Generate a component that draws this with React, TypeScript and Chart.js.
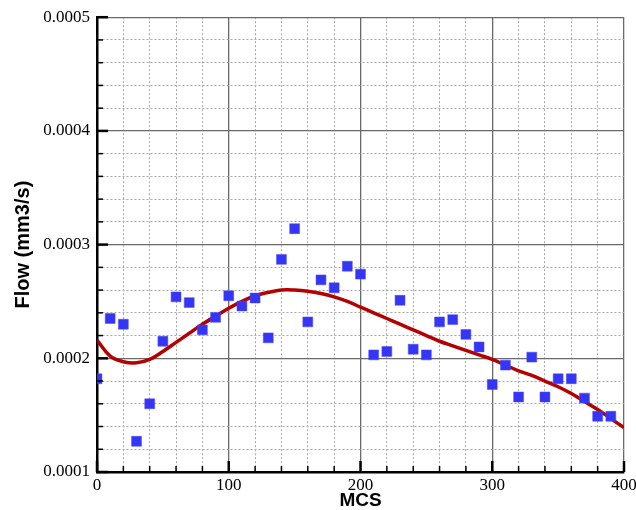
import React, { useEffect, useRef } from 'react';
import { Chart, registerables } from 'chart.js';

Chart.register(...registerables);

// Measured points (MCS, Flow mm3/s)
const mcsValues = [0, 10, 20, 30, 40, 50, 60, 70, 80, 90, 100, 110, 120, 130, 140, 150, 160, 170, 180, 190, 200, 210, 220, 230, 240, 250, 260, 270, 280, 290, 300, 310, 320, 330, 340, 350, 360, 370, 380, 390];
const flowValues = [0.000182, 0.000235, 0.00023, 0.000127, 0.00016, 0.000215, 0.000254, 0.000249, 0.000225, 0.000236, 0.000255, 0.000246, 0.000253, 0.000218, 0.000287, 0.000314, 0.000232, 0.000269, 0.000262, 0.000281, 0.000274, 0.000203, 0.000206, 0.000251, 0.000208, 0.000203, 0.000232, 0.000234, 0.000221, 0.00021, 0.000177, 0.000194, 0.000166, 0.000201, 0.000166, 0.000182, 0.000182, 0.000165, 0.000149, 0.000149];

// Fitted curve
const fitMcs = [0, 10, 20, 30, 40, 50, 60, 70, 80, 90, 100, 110, 120, 130, 140, 150, 160, 170, 180, 190, 200, 210, 220, 230, 240, 250, 260, 270, 280, 290, 300, 310, 320, 330, 340, 350, 360, 370, 380, 390, 400];
const fitFlow = [0.000216, 0.000202, 0.000197, 0.000196, 0.000199, 0.000206, 0.000214, 0.000222, 0.00023, 0.000237, 0.000244, 0.00025, 0.000255, 0.000258, 0.00026, 0.00026, 0.000259, 0.000257, 0.000254, 0.00025, 0.000245, 0.00024, 0.000235, 0.00023, 0.000225, 0.00022, 0.000215, 0.000211, 0.000207, 0.000203, 0.000199, 0.000194, 0.000189, 0.000185, 0.00018, 0.000175, 0.000169, 0.000162, 0.000155, 0.000147, 0.000139];

const xMin = 0;
const xMax = 400;
const xMajorStep = 100;
const xMinorStep = 20;
const yMin = 0.0001;
const yMax = 0.0005;
const yMajorStep = 0.0001;
const yMinorStep = 0.00002;

const isMajorX = (v: number) => Math.abs(v / xMajorStep - Math.round(v / xMajorStep)) < 1e-6;
const isMajorY = (v: number) => Math.abs(v / yMajorStep - Math.round(v / yMajorStep)) < 1e-6;

const inwardTicks = {
  id: 'inwardTicks',
  afterDatasetsDraw(chart: any) {
    const { ctx, chartArea, scales } = chart;
    ctx.save();
    ctx.strokeStyle = '#000';
    scales.y.ticks.forEach((t: any) => {
      const py = scales.y.getPixelForValue(t.value);
      const major = isMajorY(t.value);
      ctx.lineWidth = major ? 2.5 : 1.5;
      ctx.beginPath();
      ctx.moveTo(chartArea.left, py);
      ctx.lineTo(chartArea.left + (major ? 11 : 6), py);
      ctx.stroke();
    });
    scales.x.ticks.forEach((t: any) => {
      const px = scales.x.getPixelForValue(t.value);
      const major = isMajorX(t.value);
      ctx.lineWidth = major ? 2.5 : 1.5;
      ctx.beginPath();
      ctx.moveTo(px, chartArea.bottom);
      ctx.lineTo(px, chartArea.bottom - (major ? 11 : 6));
      ctx.stroke();
    });
    ctx.restore();
  },
};

export default function App() {
  const canvasRef = useRef<HTMLCanvasElement | null>(null);

  useEffect(() => {
    document.body.style.margin = '0';
    const canvas = canvasRef.current;
    if (!canvas) return;
    const chart = new Chart(canvas, {
      type: 'scatter',
      data: {
        datasets: [
          {
            type: 'scatter',
            label: 'Measured',
            data: mcsValues.map((x, i) => ({ x, y: flowValues[i] })),
            pointStyle: 'rect',
            pointRadius: 7,
            pointBackgroundColor: '#3535f5',
            pointBorderColor: '#4848f8',
            pointBorderWidth: 0.5,
            order: 0,
          },
          {
            type: 'line',
            label: 'Fit',
            data: fitMcs.map((x, i) => ({ x, y: fitFlow[i] })),
            borderColor: '#b30000',
            borderWidth: 3.5,
            pointRadius: 0,
            fill: false,
            tension: 0.4,
            order: 1,
          } as any,
        ],
      },
      options: {
        animation: false,
        responsive: true,
        maintainAspectRatio: false,
        layout: { padding: { top: 16, right: 12, left: 0, bottom: 0 } },
        plugins: {
          legend: { display: false },
          tooltip: { enabled: false },
        },
        scales: {
          x: {
            type: 'linear',
            min: xMin,
            max: xMax,
            afterFit: (scale: any) => {
              scale.height = 38;
              scale.paddingRight = 0;
              scale.paddingLeft = 0;
            },
            ticks: {
              stepSize: xMinorStep,
              autoSkip: false,
              maxRotation: 0,
              padding: 3,
              color: '#000',
              font: { family: '"Liberation Serif", "Times New Roman", serif', size: 17 },
              callback: (v: any) => (isMajorX(Number(v)) ? String(Math.round(Number(v))) : ''),
            },
            grid: {
              drawTicks: false,
              color: (c: any) => (c.tick && isMajorX(c.tick.value) ? '#6a6a6a' : '#a8a8a8'),
              lineWidth: (c: any) => (c.tick && isMajorX(c.tick.value) ? 1.3 : 1),
            },
            border: {
              display: true,
              color: '#000',
              width: 2.5,
              dash: (c: any) => (c.tick && !isMajorX(c.tick.value) ? [2, 2] : []),
            } as any,
            title: {
              display: true,
              text: 'MCS',
              color: '#000',
              padding: { top: 0, bottom: 0 },
              font: { family: '"Liberation Sans", Arial, sans-serif', size: 19, weight: 'bold', lineHeight: 1 },
            },
          },
          y: {
            type: 'linear',
            min: yMin,
            max: yMax,
            afterFit: (scale: any) => {
              scale.width = 97;
            },
            ticks: {
              stepSize: yMinorStep,
              autoSkip: false,
              padding: 7,
              color: '#000',
              font: { family: '"Liberation Serif", "Times New Roman", serif', size: 17 },
              callback: (v: any) => (isMajorY(Number(v)) ? Number(v).toFixed(4) : ''),
            },
            grid: {
              drawTicks: false,
              color: (c: any) => (c.tick && isMajorY(c.tick.value) ? '#6a6a6a' : '#a8a8a8'),
              lineWidth: (c: any) => (c.tick && isMajorY(c.tick.value) ? 1.3 : 1),
            },
            border: {
              display: true,
              color: '#000',
              width: 2.5,
              dash: (c: any) => (c.tick && !isMajorY(c.tick.value) ? [2, 2] : []),
            } as any,
            title: {
              display: true,
              text: 'Flow (mm3/s)',
              color: '#000',
              padding: { top: 11, bottom: 0 },
              font: { family: '"Liberation Sans", Arial, sans-serif', size: 20, weight: 'bold', lineHeight: 1.2 },
            },
          },
        },
      },
      plugins: [inwardTicks],
    });
    return () => chart.destroy();
  }, []);

  return (
    <div style={{ position: 'relative', width: 636, height: 510, background: '#fff' }}>
      <canvas ref={canvasRef} />
    </div>
  );
}
